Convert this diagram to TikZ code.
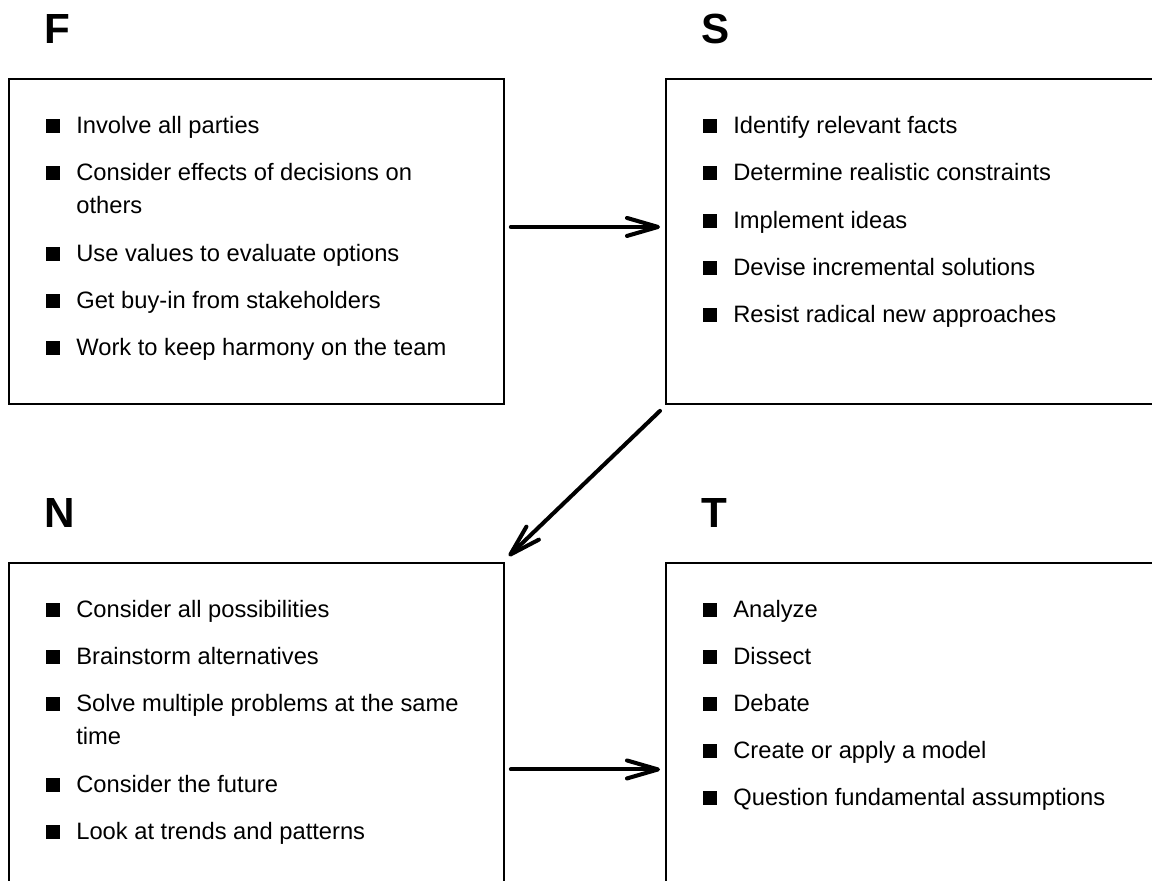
\documentclass[tikz,border=0pt]{standalone}
\usepackage{fontspec}
\setmainfont{Liberation Sans}
\usetikzlibrary{arrows.meta}
\usetikzlibrary{positioning}
\tikzset{box/.style = {draw, line width = 1.1pt, anchor = north west, inner sep = 0,
                       minimum width = 9.9cm, minimum height = 6.5cm}}
\tikzset{head/.style = {anchor = base west, inner sep = 0,
                        font = \fontsize{24}{28}\selectfont\bfseries}}
\tikzset{item/.style = {anchor = base west, inner sep = 0,
                        font = \fontsize{13.5}{18.8}\selectfont}}
\tikzset{flow/.style = {line width = 2.3pt, line cap = round,
                        -{Straight Barb[length = 0.62cm, width = 0.36cm, round]}}}
\newcommand{\sq}{\leavevmode\llap{\rule{0.28cm}{0.28cm}\hspace{0.32cm}}}
\newcommand{\entry}[1]{\parbox[t]{8.6cm}{\sq #1}}

\begin{document}
\begin{tikzpicture}[x = 0.02cm, y = -0.02cm]
      \useasboundingbox (0, 0) rectangle (1152, 880);

      \node [head] (fhead) at (44, 43) {F};
      \node [head] (shead) at (701, 43) {S};
      \node [head] (nhead) at (44, 527) {N};
      \node [head] (thead) at (701, 527) {T};

      \node [box] (fbox) at (8, 78) {};
      \node [box] (sbox) at (665, 78) {};
      \node [box, minimum height = 6.7cm] (nbox) at (8, 562) {};
      \node [box, minimum height = 6.7cm] (tbox) at (665, 562) {};

      \foreach \y/\t [count=\i] in {133/{Involve all parties},
                                    180/{Consider effects of decisions on\\others},
                                    261/{Use values to evaluate options},
                                    308/{Get buy-in from stakeholders},
                                    355/{Work to keep harmony on the team}}
        \node [item] (f\i) at (76, \y) {\entry{\t}};
      \foreach \y/\t [count=\i] in {133/{Identify relevant facts},
                                    180/{Determine realistic constraints},
                                    228/{Implement ideas},
                                    275/{Devise incremental solutions},
                                    322/{Resist radical new approaches}}
        \node [item] (s\i) at (733, \y) {\entry{\t}};
      \foreach \y/\t [count=\i] in {617/{Consider all possibilities},
                                    664/{Brainstorm alternatives},
                                    711/{Solve multiple problems at the same\\time},
                                    792/{Consider the future},
                                    839/{Look at trends and patterns}}
        \node [item] (n\i) at (76, \y) {\entry{\t}};
      \foreach \y/\t [count=\i] in {617/{Analyze},
                                    664/{Dissect},
                                    711/{Debate},
                                    758/{Create or apply a model},
                                    805/{Question fundamental assumptions}}
        \node [item] (t\i) at (733, \y) {\entry{\t}};

      \draw [flow] ([shift={(6, -14.5)}]fbox.east) -- ([shift={(-5, -14.5)}]sbox.west);
      \draw [flow] ([shift={(-5, 6)}]sbox.south west) -- ([shift={(4, -6)}]nbox.north east);
      \draw [flow] ([shift={(6, 39)}]nbox.east) -- ([shift={(-5, 39)}]tbox.west);
    \end{tikzpicture}
\end{document}
